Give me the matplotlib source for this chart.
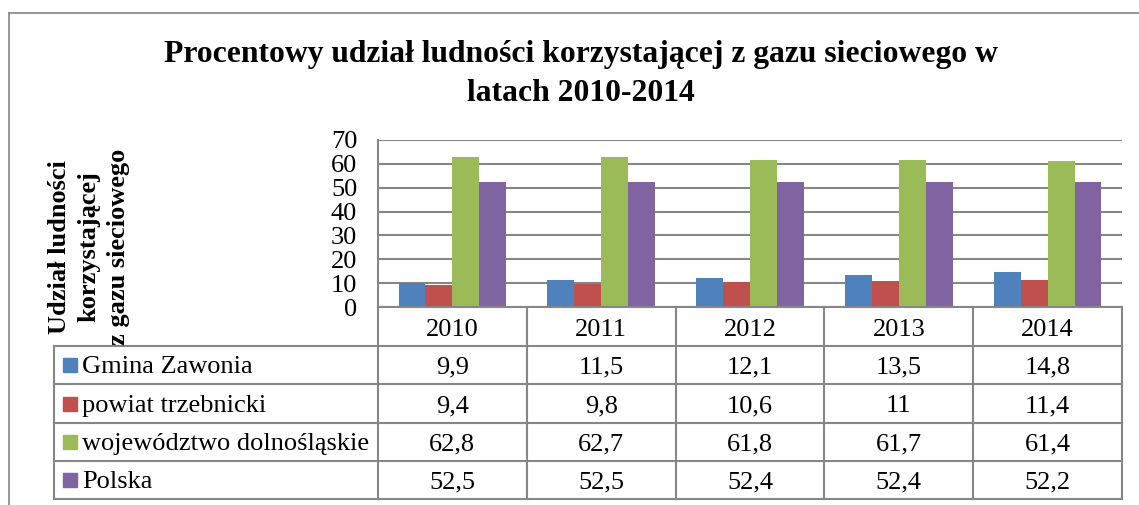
import matplotlib.pyplot as plt
import matplotlib.transforms as mtransforms
import numpy as np

years = ["2010", "2011", "2012", "2013", "2014"]
series = ["Gmina Zawonia", "powiat trzebnicki", "województwo dolnośląskie", "Polska"]
gmina = [9.9, 11.5, 12.1, 13.5, 14.8]
powiat = [9.4, 9.8, 10.6, 11, 11.4]
wojewodztwo = [62.8, 62.7, 61.8, 61.7, 61.4]
polska = [52.5, 52.5, 52.4, 52.4, 52.2]
values = [gmina, powiat, wojewodztwo, polska]
colors = ["#4F81BD", "#C0504D", "#9BBB59", "#8064A2"]

W, H = 1139, 505
GRID = "#868686"
FONT = "Liberation Serif"


def fx(px):
    return px / W


def fy(py):
    return 1 - py / H


def fmt(v):
    return f"{v:g}".replace(".", ",")


fig = plt.figure(figsize=(W / 100, H / 100), dpi=100)
plt.rcParams["font.family"] = FONT

# outer chart frame (left and top edges visible)
fig.add_artist(plt.Line2D([fx(9), fx(9)], [fy(13), 0], transform=fig.transFigure,
                          color=GRID, lw=1.2))
fig.add_artist(plt.Line2D([fx(9), 1], [fy(13), fy(13)], transform=fig.transFigure,
                          color=GRID, lw=1.2))

left, right, top, bottom = 378, 1122, 140, 307
ax = fig.add_axes([fx(left), fy(bottom), fx(right - left), (bottom - top) / H])

x = np.arange(len(years))
bw = 0.181
for i, (vals, col) in enumerate(zip(values, colors)):
    ax.bar(x + (i - 1.5) * bw, vals, width=bw, color=col, edgecolor="none", zorder=3)

ax.set_xlim(-0.5, len(years) - 0.5)
ax.set_ylim(0, 70)
ax.set_yticks(range(0, 71, 10))
ax.set_xticks([])
ax.yaxis.grid(True, color=GRID, lw=1.5, zorder=0)
ax.tick_params(axis="y", length=0, pad=15, labelsize=19)
for lab in ax.get_yticklabels():
    lab.set_fontfamily(FONT)
for side in ["top", "right", "bottom"]:
    ax.spines[side].set_visible(False)
ax.spines["left"].set_color(GRID)
ax.spines["left"].set_linewidth(1.5)

title = ["Procentowy udział ludności korzystającej z gazu sieciowego w", "latach 2010-2014"]
for k, line in enumerate(title):
    fig.text(fx(581), fy(62 + k * 39), line, ha="center", va="baseline",
             fontsize=22.8, fontweight="bold")

ylab = ["Udział ludności", "korzystającej", "z gazu sieciowego"]
for k, line in enumerate(ylab):
    fig.text(fx(60 + k * 29), fy(247), line, rotation=90, ha="center", va="center",
             fontsize=19, fontweight="bold")

# data table under the plot
blend = mtransforms.blended_transform_factory(ax.transData, fig.transFigure)
rows = [307, 346, 384, 423, 461, 499]
tleft = 54
lw = 1.5
for r in rows[1:]:
    fig.add_artist(plt.Line2D([fx(tleft), fx(right)], [fy(r), fy(r)],
                              transform=fig.transFigure, color=GRID, lw=lw))
fig.add_artist(plt.Line2D([fx(left), fx(right)], [fy(rows[0]), fy(rows[0])],
                          transform=fig.transFigure, color=GRID, lw=lw))
fig.add_artist(plt.Line2D([fx(tleft), fx(tleft)], [fy(rows[1]), fy(rows[-1])],
                          transform=fig.transFigure, color=GRID, lw=lw))
for b in np.arange(len(years) + 1) - 0.5:
    fig.add_artist(plt.Line2D([b, b], [fy(rows[0]), fy(rows[-1])],
                              transform=blend, color=GRID, lw=lw))

for j, yr in enumerate(years):
    fig.text(j, fy(rows[1] - 10), yr, transform=blend, ha="center", va="baseline", fontsize=19)

for i, (name, vals, col) in enumerate(zip(series, values, colors)):
    base = fy(rows[i + 2] - 11)
    fig.add_artist(plt.Rectangle((fx(63), fy(rows[i + 2] - 12)), fx(14), 14 / H,
                                 transform=fig.transFigure, color=col))
    fig.text(fx(82), base, name, ha="left", va="baseline", fontsize=19)
    for j, v in enumerate(vals):
        fig.text(j, base, fmt(v), transform=blend, ha="center", va="baseline", fontsize=19)

fig.savefig("out.png", dpi=100)
